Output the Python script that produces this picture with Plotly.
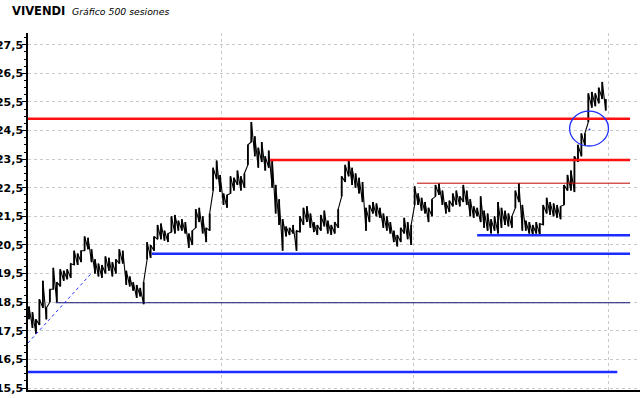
import plotly.graph_objects as go

# ---------------- data ----------------
titulo = "VIVENDI"
subtitulo = "Gráfico 500 sesiones"

# one bar every 3 sessions (0..498)
sesion = list(range(0, 500, 3))

minimo = [17.9, 17.6, 17.4, 17.7, 18.3, 17.9, 18.5, 18.95, 18.5, 19.05,
          19.25, 19.3, 19.35, 19.8, 19.8, 19.9, 20.3, 20.35, 19.9, 19.5,
          19.4, 19.35, 19.5, 19.6, 19.4, 19.5, 19.85, 19.85, 19.1, 19.05,
          18.9, 18.65, 18.7, 18.43, 20.0, 20.05, 20.3, 20.7, 20.7, 20.65,
          20.6, 20.95, 20.9, 21.0, 21.0, 20.9, 20.4, 20.5, 21.1, 21.3,
          20.9, 20.6, 21.0, 22.4, 22.8, 22.35, 21.9, 21.8, 22.3, 22.4,
          22.6, 22.4, 22.5, 23.3, 24.1, 23.6, 23.2, 23.4, 23.1, 23.2,
          22.5, 21.6, 21.2, 20.3, 20.8, 20.85, 20.9, 20.3, 20.95, 21.2,
          21.3, 21.1, 20.95, 20.85, 21.0, 21.15, 20.9, 20.85, 20.9, 21.1,
          22.2, 22.7, 22.9, 22.6, 22.5, 22.3, 22.0, 21.0, 21.3, 21.6,
          21.5, 21.45, 21.1, 21.0, 20.9, 20.6, 20.45, 20.6, 20.9, 20.7,
          20.5, 21.9, 21.9, 21.7, 21.6, 21.3, 21.5, 22.2, 22.25, 21.9,
          21.6, 21.65, 21.85, 21.9, 21.85, 22.0, 21.9, 21.5, 21.45, 21.5,
          21.3, 21.1, 21.0, 20.9, 21.0, 20.9, 21.1, 21.2, 21.15, 21.1,
          21.8, 22.0, 21.0, 21.0, 20.9, 20.85, 20.9, 20.85, 21.2, 21.6,
          21.55, 21.5, 21.45, 21.4, 21.9, 22.4, 22.4, 22.35, 23.4, 23.6,
          23.97, 24.8, 25.3, 25.35, 25.45, 25.6, 25.2]

maximo = [18.35, 18.15, 17.9, 18.6, 19.25, 18.3, 18.95, 19.7, 19.2, 19.65,
          19.6, 19.65, 19.85, 20.3, 20.2, 20.3, 20.8, 20.75, 20.35, 20.0,
          19.85, 19.8, 20.1, 20.05, 19.9, 20.0, 20.35, 20.3, 19.6, 19.4,
          19.2, 19.1, 19.0, 19.2, 20.6, 20.5, 20.8, 21.2, 21.25, 21.0,
          20.9, 21.5, 21.55, 21.35, 21.4, 21.3, 20.9, 21.0, 21.75, 21.8,
          21.5, 21.1, 21.6, 23.2, 23.45, 22.95, 22.3, 22.25, 22.9, 22.85,
          23.1, 22.9, 23.0, 24.0, 24.8, 24.3, 23.9, 24.1, 23.6, 23.8,
          23.5, 22.6, 22.1, 21.4, 21.15, 21.1, 21.2, 21.0, 21.5, 21.8,
          21.85, 21.6, 21.3, 21.2, 21.55, 21.7, 21.35, 21.2, 21.3, 21.75,
          22.9, 23.3, 23.5, 23.2, 23.0, 22.85, 22.7, 21.8, 21.9, 22.0,
          21.95, 21.8, 21.6, 21.5, 21.3, 21.0, 20.85, 21.1, 21.45, 21.3,
          21.2, 22.55, 22.3, 22.15, 22.0, 21.8, 22.1, 22.6, 22.65, 22.4,
          22.0, 22.05, 22.3, 22.4, 22.2, 22.6, 22.4, 22.1, 21.85, 21.8,
          22.2, 21.7, 21.6, 21.4, 21.5, 22.0, 21.8, 21.7, 21.6, 21.5,
          22.4, 22.66, 21.9, 21.35, 21.3, 21.2, 21.3, 21.25, 21.9, 22.15,
          22.0, 21.95, 21.9, 21.85, 22.6, 22.95, 23.1, 23.6, 24.0, 24.4,
          24.4, 25.8, 25.85, 25.8, 26.0, 26.2, 25.6]

# horizontal levels: (price, first session, last session)
resistencias = [(24.91, -1, 519), (23.47, 208, 519)]
resistencia_fina = [(22.66, 335, 519)]
soportes = [(20.84, 387, 519), (20.19, 106, 519), (16.06, -1, 508)]
soporte_fino = [(18.48, 23, 519)]
tendencia = [(-1, 17.07), (55, 19.56)]          # dotted trend line (session, price)
circulo = dict(s0=466.8, s1=500.4, p0=23.96, p1=25.18)
punto = (484.0, 24.54)

y_ticks = [15.5 + i for i in range(13)]
x_grid = [166, 332, 500]

# --------------- figure ---------------
# separate high-low bars
bx, by = [], []
for s, lo, hi in zip(sesion, minimo, maximo):
    bx += [s, s, None]
    by += [lo, hi, None]
# the same bars joined into a sawtooth path (fills the gaps like a dense bar chart)
zx, zy = [], []
for s, lo, hi in zip(sesion, minimo, maximo):
    zx += [s, s]
    zy += [lo, hi]

fig = go.Figure()
fig.add_trace(go.Scatter(x=zx, y=zy, mode="lines",
                         line=dict(color="black", width=1.1),
                         hoverinfo="skip", showlegend=False))
fig.add_trace(go.Scatter(x=bx, y=by, mode="lines",
                         line=dict(color="black", width=1.8),
                         hoverinfo="skip", showlegend=False))
fig.add_trace(go.Scatter(x=[punto[0]], y=[punto[1]], mode="markers",
                         marker=dict(color="#2030ff", size=2),
                         hoverinfo="skip", showlegend=False))

for p, a, b in resistencias:
    fig.add_shape(type="line", x0=a, x1=b, y0=p, y1=p,
                  line=dict(color="#ff1010", width=2.5))
for p, a, b in resistencia_fina:
    fig.add_shape(type="line", x0=a, x1=b, y0=p, y1=p,
                  line=dict(color="#c00000", width=1))
for p, a, b in soportes:
    fig.add_shape(type="line", x0=a, x1=b, y0=p, y1=p,
                  line=dict(color="#1a2cff", width=2.5))
for p, a, b in soporte_fino:
    fig.add_shape(type="line", x0=a, x1=b, y0=p, y1=p,
                  line=dict(color="#101070", width=1))
fig.add_shape(type="line", x0=tendencia[0][0], y0=tendencia[0][1],
              x1=tendencia[1][0], y1=tendencia[1][1],
              line=dict(color="#2030ff", width=1, dash="dot"))
fig.add_shape(type="circle", x0=circulo["s0"], x1=circulo["s1"],
              y0=circulo["p0"], y1=circulo["p1"],
              line=dict(color="#2030ff", width=1.3))

L, R, T, B = 28, 0, 33, 8
W, H = 640, 398
pw, ph = W - L - R, H - T - B

fig.add_annotation(text="<b>" + titulo + "</b>", xref="paper", yref="paper",
                   x=(10 - L) / pw, y=(H - B - 11) / ph, xanchor="left", yanchor="middle",
                   showarrow=False, font=dict(family="DejaVu Sans", size=11.5, color="black"))
fig.add_annotation(text="<i>" + subtitulo + "</i>", xref="paper", yref="paper",
                   x=(70 - L) / pw, y=(H - B - 12) / ph, xanchor="left", yanchor="middle",
                   showarrow=False, font=dict(family="DejaVu Sans", size=9.3, color="black"))

fig.update_layout(
    width=W, height=H, margin=dict(l=L, r=R, t=T, b=B),
    paper_bgcolor="white", plot_bgcolor="white",
    separators=",.", showlegend=False,
    xaxis=dict(range=[-0.86, 527.6], showline=True, linecolor="black", linewidth=1.5,
               showgrid=True, gridcolor="#c8c8c8", griddash="dot", gridwidth=1,
               tickmode="array", tickvals=x_grid, showticklabels=False, ticks="",
               zeroline=False, fixedrange=True),
    yaxis=dict(range=[15.43, 27.91], showline=True, linecolor="black", linewidth=1.5,
               tickmode="array", tickvals=y_ticks, tickformat=".1f",
               ticks="outside", ticklen=4, tickcolor="black", tickwidth=1,
               ticklabelstandoff=-3,
               tickfont=dict(family="DejaVu Sans", size=11, color="black", weight="bold"),
               showgrid=True, gridcolor="#c8c8c8", griddash="dot", gridwidth=1,
               minor=dict(tick0=15.5, dtick=0.25, ticks="outside", ticklen=2,
                          tickcolor="black", showgrid=False),
               zeroline=False, automargin=False, fixedrange=True),
)

fig.write_html("out.html")
